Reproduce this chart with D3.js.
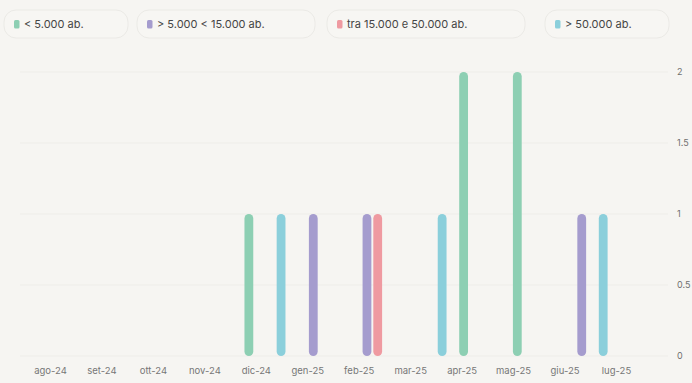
<!DOCTYPE html>
<html>
<head>
<meta charset="utf-8">
<script src="https://cdn.jsdelivr.net/npm/d3@7/dist/d3.min.js"></script>
<style>
  html, body { margin: 0; padding: 0; background: #f6f5f2; }
  svg { display: block; font-family: Inter, "Open Sans", sans-serif; }
</style>
</head>
<body>
<svg id="chart" width="692" height="383"></svg>
<script>
// Months on the x axis
const months = ["ago-24","set-24","ott-24","nov-24","dic-24","gen-25","feb-25","mar-25","apr-25","mag-25","giu-25","lug-25"];

// Series: number of cases per month, by municipality size
const seriesNames = ["< 5.000 ab.", "> 5.000 < 15.000 ab.", "tra 15.000 e 50.000 ab.", "> 50.000 ab."];
const under5k     = [0,0,0,0,1,0,0,0,2,2,0,0];
const from5to15k  = [0,0,0,0,0,1,1,0,0,0,1,0];
const from15to50k = [0,0,0,0,0,0,1,0,0,0,0,0];
const over50k     = [0,0,0,0,1,0,0,1,0,0,1,0];
const seriesColors = ["#8dcfb3", "#a59cce", "#ef9aa1", "#8bcfdb"];

// Y axis tick values
const yTicks = [0, 0.5, 1, 1.5, 2];

const seriesValues = [under5k, from5to15k, from15to50k, over50k];
const data = months.map((m, i) => ({
  month: m,
  values: seriesNames.map((s, k) => ({ key: s, value: seriesValues[k][i], color: seriesColors[k] }))
}));

const svg = d3.select("#chart");

// Scales
const x0 = d3.scaleBand().domain(months).range([18, 673]).padding(0.2);
const x1 = d3.scaleBand().domain(seriesNames).range([0, x0.bandwidth()]);
const xLabels = d3.scalePoint().domain(months).range([50, 616]);
const y = d3.scaleLinear().domain([0, 2]).range([356, 72]);

// Gridlines
svg.append("g")
  .selectAll("line")
  .data(yTicks)
  .join("line")
  .attr("x1", 20).attr("x2", 668)
  .attr("y1", d => y(d)).attr("y2", d => y(d))
  .attr("stroke", "#eeede9")
  .attr("stroke-width", 1);

// Y axis on the right
const yAxis = svg.append("g")
  .attr("transform", "translate(676,0)")
  .call(d3.axisRight(y).tickValues(yTicks).tickSize(0).tickPadding(1).tickFormat(d3.format("~g")));
yAxis.select(".domain").remove();
yAxis.selectAll("text")
  .attr("fill", "#707070")
  .style("font-size", "9px")
  .style("font-family", "Inter, sans-serif");

// X axis labels
const xAxis = svg.append("g")
  .attr("transform", "translate(0,365)")
  .call(d3.axisBottom(xLabels).tickSize(0).tickPadding(2));
xAxis.select(".domain").remove();
xAxis.selectAll("text")
  .attr("fill", "#777")
  .style("font-size", "9.5px")
  .style("font-family", "Inter, sans-serif");

// Bars
const barW = 8.8;
svg.append("g")
  .selectAll("g")
  .data(data)
  .join("g")
  .attr("transform", d => `translate(${x0(d.month)},0)`)
  .selectAll("rect")
  .data(d => d.values.filter(v => v.value > 0))
  .join("rect")
  .attr("x", d => x1(d.key) + x1.bandwidth() / 2 - barW / 2)
  .attr("width", barW)
  .attr("y", d => y(d.value))
  .attr("height", d => y(0) - y(d.value))
  .attr("rx", 4.4)
  .attr("fill", d => d.color);

// Legend pills
const pills = [
  { x: 4,   w: 124 },
  { x: 137, w: 178 },
  { x: 327, w: 198 },
  { x: 545, w: 124 }
];
const legend = svg.append("g");
const item = legend.selectAll("g")
  .data(seriesNames.map((s, k) => ({ name: s, color: seriesColors[k], pill: pills[k] })))
  .join("g")
  .attr("transform", d => `translate(${d.pill.x},10)`);
item.append("rect")
  .attr("width", d => d.pill.w).attr("height", 28)
  .attr("rx", 12)
  .attr("fill", "#f7f6f3")
  .attr("stroke", "#ebeae6")
  .attr("stroke-width", 1);
item.append("rect")
  .attr("x", 10).attr("y", 10)
  .attr("width", 5.5).attr("height", 8.5)
  .attr("rx", 1.5)
  .attr("fill", d => d.color);
item.append("text")
  .attr("x", 20).attr("y", 18)
  .attr("fill", "#454545")
  .style("font-size", "11px")
  .text(d => d.name);
</script>
</body>
</html>
